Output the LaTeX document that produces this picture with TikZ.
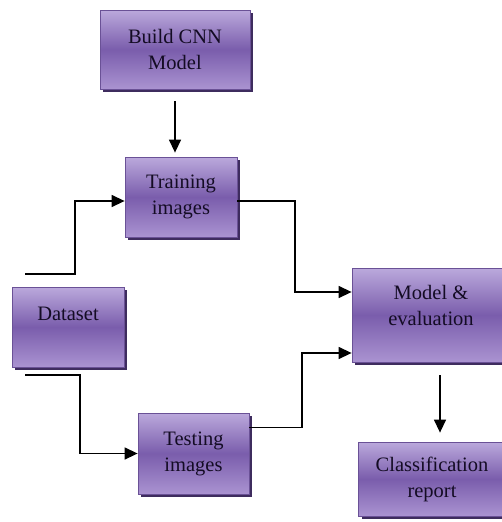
\documentclass[tikz,border=0pt]{standalone}
\usepackage{fontspec}
\setmainfont{Liberation Serif}
\usetikzlibrary{positioning,arrows.meta,calc,shadows}

\definecolor{boxlight}{HTML}{BBA9DC}
\definecolor{boxmid}{HTML}{7A5DAC}
\definecolor{boxlow}{HTML}{AA93D1}
\definecolor{boxedge}{HTML}{6A5196}
\definecolor{boxshade}{HTML}{3E2C5E}
\definecolor{boxtext}{HTML}{140C24}

\begin{document}
\begin{tikzpicture}[
    x=1pt, y=-1pt,
    stepbox/.style={rectangle, draw=boxedge, line width=0.8pt, align=center,
        top color=boxlight, bottom color=boxlow, middle color=boxmid,
        general shadow={fill=boxshade, shadow xshift=3pt, shadow yshift=-3pt},
        text=boxtext, font=\fontsize{20.5}{26}\selectfont, inner sep=2pt},
    arrow/.style={-{Triangle[length=13pt,width=12pt]}, line width=1.4pt},
    plainline/.style={line width=1.4pt}
]
\useasboundingbox (0,0) rectangle (502,522);

% Boxes
\node[stepbox, minimum width=150pt, minimum height=79pt] (build) at (175,49.5) {Build CNN\\Model};
\node[stepbox, minimum width=112pt, minimum height=80pt] (train) at (181,197) {Training\\images};
\node[stepbox, minimum width=112pt, minimum height=80pt] (data) at (68,327) {Dataset\\\mbox{}};
\node[stepbox, minimum width=111pt, minimum height=81pt] (test) at (193.5,453.5) {Testing\\images};
\node[stepbox, minimum width=158pt, minimum height=94pt] (model) at (431,315) {Model \&\\evaluation\\[-6pt]\mbox{}};
\node[stepbox, minimum width=147pt, minimum height=74pt] (report) at (432,479) {Classification\\report};

% Free ends of the dataset lines
\coordinate (trainstart) at (25,274);
\coordinate (teststart) at (25,375);

% Connectors
\draw[arrow, shorten <=12pt, shorten >=4pt] (build.south) -- (build.south |- train.north);
\draw[arrow] (trainstart) -- (75,274) |- ([yshift=-4pt]train.west);
\draw[arrow] (teststart) -- (80,375) |- (test.west);
\draw[arrow] ([yshift=-4pt]train.east) -| (295,292) -- ([yshift=23pt]model.west);
\draw[arrow] ([yshift=26pt]test.east) -| (302,353) -- ([yshift=-38pt]model.west);
\draw[arrow, shorten <=13pt, shorten >=9pt] ([xshift=9pt]model.south) -- ([xshift=9pt]model.south |- report.north);

\end{tikzpicture}
\end{document}
